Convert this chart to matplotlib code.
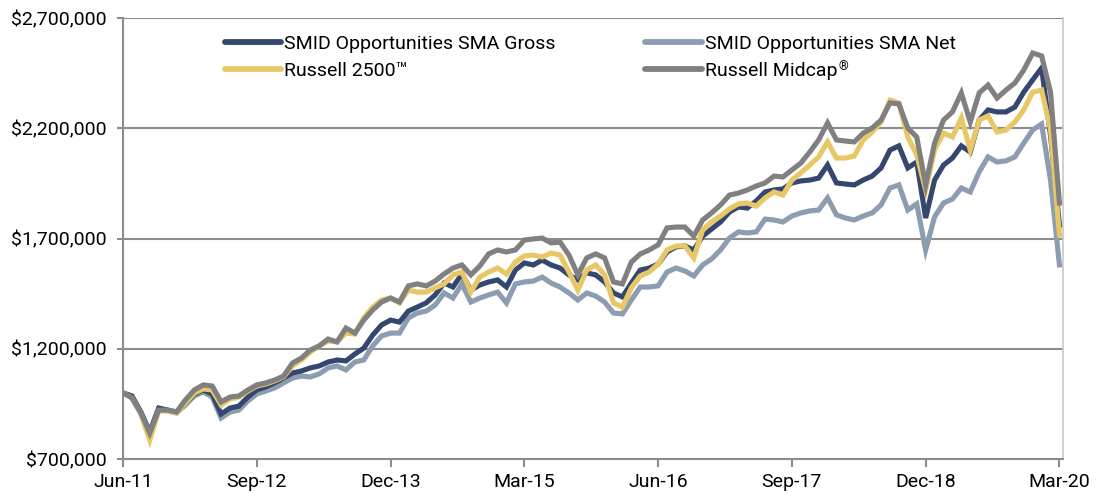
import matplotlib
matplotlib.use("Agg")
import matplotlib.pyplot as plt
import matplotlib.ticker as mticker
import numpy as np

# Monthly growth of $1,000,000 (values in thousands of dollars), Jun-2011 .. Mar-2020
tick_labels = ["Jun-11", "Sep-12", "Dec-13", "Mar-15", "Jun-16", "Sep-17", "Dec-18", "Mar-20"]

sma_gross = [1000, 986, 913, 823, 931, 922, 913, 954, 995, 1013, 995, 904, 931, 940, 981, 1013,
             1027, 1045, 1067, 1090, 1099, 1113, 1122, 1140, 1149, 1145, 1176, 1203, 1262, 1308,
             1330, 1321, 1371, 1389, 1408, 1444, 1498, 1480, 1539, 1466, 1489, 1503, 1512, 1480,
             1557, 1589, 1580, 1602, 1580, 1566, 1535, 1512, 1544, 1535, 1503, 1453, 1435, 1498,
             1557, 1566, 1584, 1639, 1662, 1666, 1648, 1711, 1743, 1775, 1820, 1843, 1838, 1870,
             1911, 1920, 1925, 1952, 1961, 1965, 1974, 2033, 1952, 1947, 1943, 1965, 1983, 2020,
             2101, 2120, 2020, 2047, 1793, 1965, 2033, 2065, 2120, 2092, 2237, 2283, 2274, 2274,
             2296, 2364, 2419, 2473, 2169, 1761]

sma_net = [1000, 981, 909, 813, 922, 918, 909, 945, 986, 1004, 981, 886, 913, 922, 963, 995,
           1008, 1022, 1045, 1067, 1076, 1072, 1086, 1113, 1122, 1104, 1140, 1149, 1213, 1258,
           1271, 1271, 1340, 1362, 1371, 1398, 1453, 1430, 1494, 1412, 1430, 1444, 1457, 1408,
           1494, 1503, 1507, 1525, 1498, 1480, 1453, 1421, 1453, 1439, 1412, 1362, 1358, 1421,
           1480, 1480, 1485, 1548, 1566, 1553, 1530, 1580, 1607, 1648, 1702, 1730, 1725, 1730,
           1788, 1784, 1775, 1802, 1816, 1825, 1829, 1884, 1807, 1793, 1784, 1802, 1816, 1852,
           1929, 1943, 1829, 1857, 1648, 1798, 1861, 1879, 1929, 1911, 2002, 2070, 2047, 2052,
           2070, 2133, 2192, 2219, 1965, 1580]

russell_2500 = [1000, 977, 904, 786, 918, 918, 909, 954, 999, 1018, 1013, 945, 972, 981, 1008, 1031,
                1040, 1054, 1072, 1122, 1149, 1185, 1213, 1235, 1231, 1271, 1267, 1340, 1389, 1421,
                1430, 1408, 1466, 1457, 1457, 1476, 1494, 1535, 1548, 1457, 1525, 1548, 1566, 1539,
                1593, 1621, 1625, 1616, 1634, 1625, 1548, 1466, 1557, 1580, 1535, 1408, 1389, 1476,
                1530, 1548, 1584, 1648, 1666, 1666, 1612, 1739, 1775, 1802, 1834, 1857, 1861, 1847,
                1884, 1911, 1897, 1965, 1997, 2033, 2070, 2138, 2065, 2065, 2074, 2147, 2183, 2228,
                2328, 2315, 2160, 2079, 1920, 2101, 2178, 2160, 2247, 2101, 2237, 2256, 2183, 2192,
                2228, 2283, 2364, 2373, 2192, 1716]

russell_midcap = [1000, 977, 909, 818, 922, 922, 913, 968, 1013, 1036, 1031, 959, 981, 986, 1013, 1036,
                  1045, 1058, 1076, 1135, 1158, 1194, 1213, 1244, 1231, 1294, 1271, 1330, 1376, 1412,
                  1430, 1412, 1485, 1494, 1485, 1507, 1539, 1566, 1580, 1535, 1575, 1630, 1648, 1639,
                  1648, 1693, 1698, 1702, 1680, 1684, 1625, 1535, 1612, 1630, 1612, 1503, 1494, 1593,
                  1630, 1648, 1671, 1748, 1752, 1752, 1711, 1784, 1816, 1852, 1897, 1906, 1920, 1938,
                  1952, 1983, 1979, 2011, 2042, 2092, 2147, 2224, 2147, 2142, 2138, 2178, 2201, 2237,
                  2315, 2310, 2201, 2160, 1943, 2133, 2237, 2274, 2360, 2228, 2360, 2396, 2337, 2373,
                  2405, 2464, 2541, 2528, 2364, 1861]

series_names = ["SMID Opportunities SMA Gross", "Russell 2500\u2122",
                "SMID Opportunities SMA Net", "Russell Midcap"]
registered_mark = "\u00ae"

FONT = ["Roboto", "DejaVu Sans"]
plt.rcParams["font.family"] = FONT

W, H, DPI = 1108, 498, 100
fig = plt.figure(figsize=(W / DPI, H / DPI), dpi=DPI)
ax = fig.add_axes([123 / W, 39 / H, 940 / W, 441 / H])

months = np.arange(len(sma_gross))
scale = 1000.0
c_gross = "#34486F"
c_net = "#8D9DB1"
c_r2500 = "#E8C766"
c_mid = "#808080"
lw = 3.7

l_net, = ax.plot(months, np.array(sma_net) * scale, color=c_net, lw=lw, zorder=3, solid_joinstyle="miter")
l_gross, = ax.plot(months, np.array(sma_gross) * scale, color=c_gross, lw=lw, zorder=4, solid_joinstyle="miter")
l_r25, = ax.plot(months, np.array(russell_2500) * scale, color=c_r2500, lw=lw, zorder=5, solid_joinstyle="miter")
l_mid, = ax.plot(months, np.array(russell_midcap) * scale, color=c_mid, lw=lw, zorder=6, solid_joinstyle="miter")

ax.set_xlim(0, 105.4)
ax.set_ylim(700000, 2700000)
ax.set_yticks(np.arange(700000, 2700001, 500000))
ax.yaxis.set_major_formatter(mticker.FuncFormatter(lambda v, p: "${:,.0f}".format(v)))
ax.set_xticks(np.arange(0, len(sma_gross), 15))
ax.set_xticklabels(tick_labels)

grid_c = "#8C8C8C"
ax.grid(axis="y", color=grid_c, lw=1.5, zorder=1)
ax.set_axisbelow(True)
ax.spines["top"].set_visible(False)
ax.spines["left"].set_color(grid_c)
ax.spines["left"].set_linewidth(1.5)
ax.spines["bottom"].set_color(grid_c)
ax.spines["bottom"].set_linewidth(1.5)
ax.spines["right"].set_color("#C8C8C8")
ax.spines["right"].set_linewidth(1.2)
ax.tick_params(axis="y", length=4, width=1.5, color=grid_c, pad=8, labelsize=14)
ax.tick_params(axis="x", length=6, width=1.5, color=grid_c, pad=4, labelsize=14)

leg = ax.legend([l_gross, l_r25, l_net, l_mid], series_names, ncol=2, frameon=False,
                loc="upper center", bbox_to_anchor=(0.497, 0.962), fontsize=14,
                handlelength=2.9, handletextpad=0.15, columnspacing=4.6, labelspacing=0.45,
                borderaxespad=0, borderpad=0)
for h in leg.legend_handles:
    h.set_linewidth(4.2)
    h.set_solid_capstyle("round")

# small superscript registered mark after "Russell Midcap"
fig.canvas.draw()
txt = leg.get_texts()[3]
bb = txt.get_window_extent(renderer=fig.canvas.get_renderer())
fig.text((bb.x1 + 1) / W, (bb.y1 + 1) / H, registered_mark, fontsize=9,
         ha="left", va="top", color="black")

fig.savefig("out.png", dpi=DPI)
